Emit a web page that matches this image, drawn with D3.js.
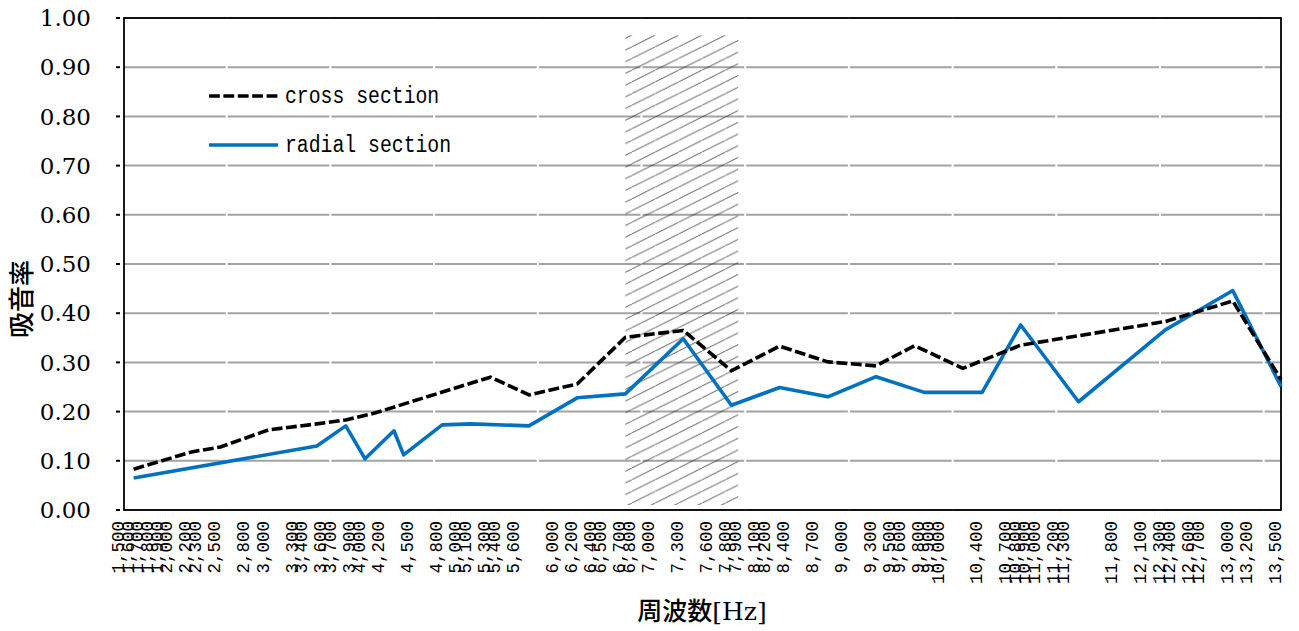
<!DOCTYPE html>
<html>
<head>
<meta charset="utf-8">
<script src="https://cdn.jsdelivr.net/npm/d3@7"></script>
<style>
  html, body { margin: 0; padding: 0; background: #fff; }
  svg { display: block; }
</style>
</head>
<body>
<svg id="chart" width="1299" height="631"></svg>
<script>
// Sound absorption coefficient (吸音率) against frequency, two cutting directions.
const seriesNames = ["cross section", "radial section"];

const crossFreq  = [1600, 2200, 2500, 3000, 3500, 3800, 4100, 5300, 5700, 6200, 6700,
                    7300, 7800, 8300, 8800, 9300, 9700, 10200, 10800, 12300, 13000, 13500];
const crossAlpha = [0.083, 0.118, 0.128, 0.163, 0.175, 0.183, 0.197, 0.270, 0.234, 0.256, 0.351,
                    0.365, 0.283, 0.333, 0.301, 0.293, 0.334, 0.288, 0.335, 0.383, 0.425, 0.265];

const radialFreq  = [1600, 3500, 3800, 4000, 4300, 4400, 4800, 5100, 5700, 6200, 6700, 7300,
                     7800, 8300, 8800, 9300, 9800, 10400, 10800, 11400, 12300, 13000, 13500];
const radialAlpha = [0.065, 0.130, 0.171, 0.104, 0.161, 0.112, 0.173, 0.175, 0.171, 0.228, 0.236, 0.348,
                     0.213, 0.249, 0.230, 0.271, 0.239, 0.239, 0.376, 0.220, 0.366, 0.446, 0.251];

// Category labels printed under the axis
const freqTicks = [1500, 1600, 1700, 1800, 1900, 2000, 2200, 2300, 2500, 2800, 3000, 3300, 3400,
                   3600, 3700, 3900, 4000, 4200, 4500, 4800, 5000, 5100, 5300, 5400, 5600, 6000,
                   6200, 6400, 6500, 6700, 6800, 7000, 7300, 7600, 7800, 7900, 8100, 8200, 8400,
                   8700, 9000, 9300, 9500, 9600, 9800, 9900, 10000, 10400, 10700, 10800, 10900,
                   11000, 11200, 11300, 11800, 12100, 12300, 12400, 12600, 12700, 13000, 13200, 13500];
const alphaTicks = [0, 0.1, 0.2, 0.3, 0.4, 0.5, 0.6, 0.7, 0.8, 0.9, 1.0];

// Hatched band (frequency range and vertical extent)
const bandFreq  = [6700, 7870];
const bandAlpha = [0.01, 0.965];

const plot = { left: 124, top: 18, right: 1281, bottom: 510 };

const svg = d3.select("#chart");
const x = d3.scaleLinear().domain([1500, 13500]).range([plot.left, plot.right]);
const y = d3.scaleLinear().domain([0, 1]).range([plot.bottom, plot.top]);

// hatch pattern
const defs = svg.append("defs");
const pat = defs.append("pattern")
  .attr("id", "hatch")
  .attr("patternUnits", "userSpaceOnUse")
  .attr("width", 23.4).attr("height", 11.7);
pat.append("path")
  .attr("d", "M-2.34,12.87 L25.74,-1.17")
  .attr("stroke", "#222").attr("stroke-width", 0.75).attr("fill", "none");

// horizontal gridlines
svg.append("g").selectAll("line")
  .data(alphaTicks)
  .join("line")
  .attr("x1", plot.left).attr("x2", plot.right)
  .attr("y1", d => y(d)).attr("y2", d => y(d))
  .attr("stroke", "#a3a3a3")
  .attr("stroke-width", 2)
  .attr("stroke-dasharray", "101.7,2");

// hatched band
svg.append("rect")
  .attr("x", x(bandFreq[0]))
  .attr("y", y(bandAlpha[1]))
  .attr("width", x(bandFreq[1]) - x(bandFreq[0]))
  .attr("height", y(bandAlpha[0]) - y(bandAlpha[1]))
  .attr("fill", "url(#hatch)");

// plot frame
svg.append("rect")
  .attr("x", plot.left).attr("y", plot.top)
  .attr("width", plot.right - plot.left).attr("height", plot.bottom - plot.top)
  .attr("fill", "none").attr("stroke", "#000").attr("stroke-width", 1.8);

// y ticks and labels
const yAxis = svg.append("g");
yAxis.selectAll("line")
  .data(alphaTicks)
  .join("line")
  .attr("x1", plot.left - 8).attr("x2", plot.left - 4)
  .attr("y1", d => y(d)).attr("y2", d => y(d))
  .attr("stroke", "#000").attr("stroke-width", 2);
yAxis.selectAll("text")
  .data(alphaTicks)
  .join("text")
  .attr("x", 91)
  .attr("y", d => y(d))
  .attr("dy", "0.36em")
  .attr("text-anchor", "end")
  .attr("font-family", "'DejaVu Serif', 'Liberation Serif', serif")
  .attr("font-size", 23)
  .attr("fill", "#000")
  .text(d => d3.format(".2f")(d));

// x category labels, vertical
const fmt = d3.format(",");
svg.append("g").selectAll("text")
  .data(freqTicks)
  .join("text")
  .attr("transform", d => `translate(${x(d)},521) rotate(-90) scale(0.92,1)`)
  .attr("text-anchor", "end")
  .attr("font-family", "'Liberation Mono', 'DejaVu Sans Mono', monospace")
  .attr("font-size", 19)
  .attr("fill", "#000")
  .text(d => fmt(d));

// data lines
const line = d3.line()
  .x(d => x(d.f))
  .y(d => y(d.a));

const crossData = crossFreq.map((f, i) => ({ f, a: crossAlpha[i] }));
const radialData = radialFreq.map((f, i) => ({ f, a: radialAlpha[i] }));

svg.append("path")
  .datum(radialData)
  .attr("d", line)
  .attr("fill", "none")
  .attr("stroke", "#0070C0")
  .attr("stroke-width", 3.6)
  .attr("stroke-linejoin", "round");

svg.append("path")
  .datum(crossData)
  .attr("d", line)
  .attr("fill", "none")
  .attr("stroke", "#000")
  .attr("stroke-width", 3.6)
  .attr("stroke-dasharray", "10.8,3.6")
  .attr("stroke-linejoin", "round");

// legend
const legend = svg.append("g");
const legendRows = [
  { name: seriesNames[0], stroke: "#000", dash: "10.8,3.6", y: 96 },
  { name: seriesNames[1], stroke: "#0070C0", dash: null, y: 145 }
];
legendRows.forEach(r => {
  legend.append("line")
    .attr("x1", 209).attr("x2", 278)
    .attr("y1", r.y).attr("y2", r.y)
    .attr("stroke", r.stroke).attr("stroke-width", 3.6)
    .attr("stroke-dasharray", r.dash);
  legend.append("text")
    .attr("transform", `translate(285,${r.y + 7}) scale(0.86,1)`)
    .attr("font-family", "'Liberation Mono', 'DejaVu Sans Mono', monospace")
    .attr("font-size", 23)
    .attr("fill", "#000")
    .text(r.name);
});

// axis titles
svg.append("text")
  .attr("x", 702).attr("y", 620)
  .attr("text-anchor", "middle")
  .attr("font-family", "'DejaVu Serif', 'Noto Sans CJK JP', serif")
  .attr("font-size", 25)
  .attr("font-weight", 500)
  .attr("fill", "#000")
  .text("周波数[Hz]");

svg.append("text")
  .attr("transform", "translate(31,299) rotate(-90)")
  .attr("text-anchor", "middle")
  .attr("font-family", "'Noto Sans CJK JP', sans-serif")
  .attr("font-size", 26)
  .attr("font-weight", 500)
  .attr("fill", "#000")
  .text("吸音率");
</script>
</body>
</html>
